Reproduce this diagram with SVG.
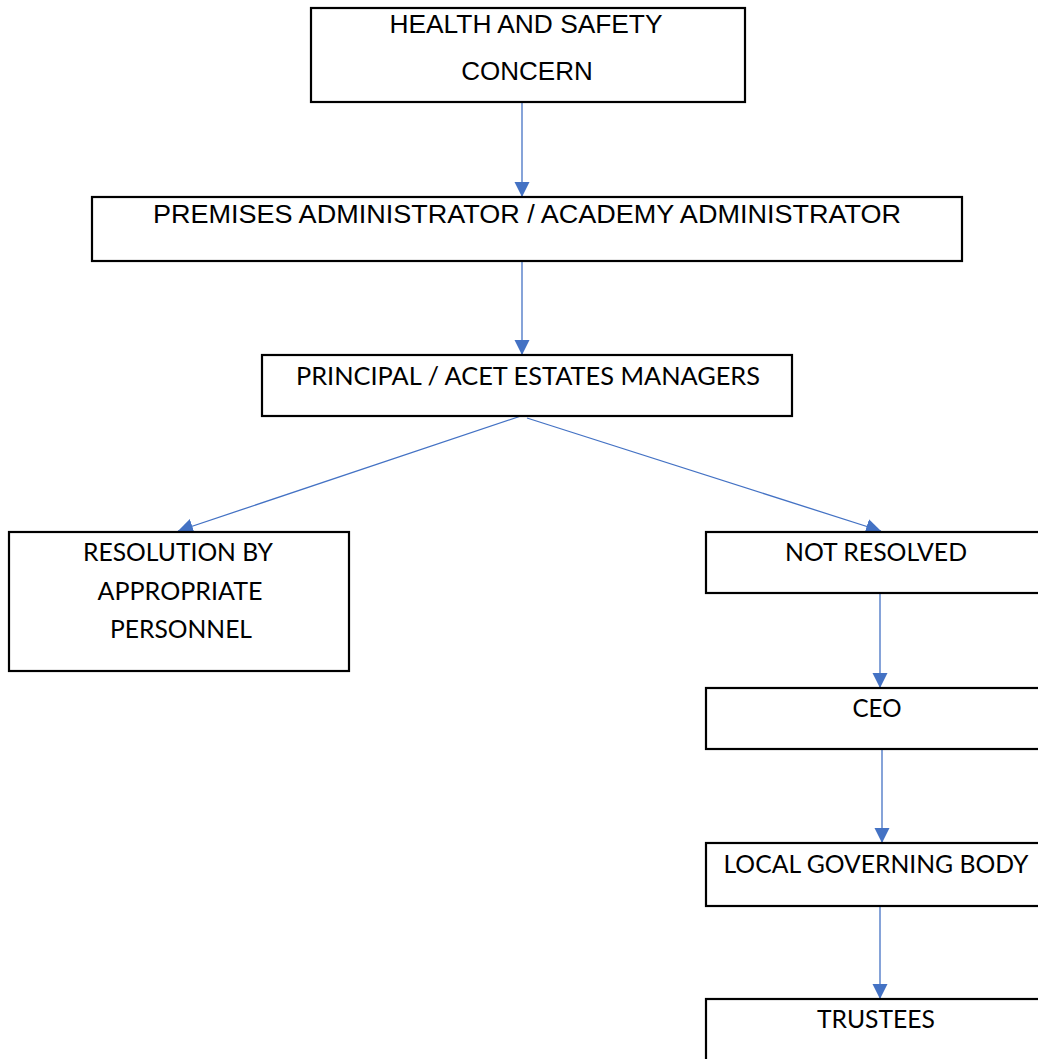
<svg xmlns="http://www.w3.org/2000/svg" width="1038" height="1059" viewBox="0 0 1038 1059">
<style>
.box{fill:#fff;stroke:#000;stroke-width:2.2}
.a{font-family:"Liberation Sans",Arial,sans-serif;font-size:26px;fill:#000;text-anchor:middle}
.c{font-family:Lato,"Open Sans",sans-serif;font-size:25px;fill:#000;text-anchor:middle}
.ln{stroke:#4472C4;stroke-width:1.3;fill:none;marker-end:url(#ah)}
</style>
<defs>
<marker id="ah" markerUnits="userSpaceOnUse" markerWidth="16" markerHeight="16" refX="15" refY="7.5" orient="auto">
<path d="M0,0 L15,7.5 L0,15 z" fill="#4472C4"/>
</marker>
</defs>
<rect width="1038" height="1059" fill="#fff"/>
<g id="connectors">
<line class="ln" x1="522" y1="102" x2="522" y2="197"/>
<line class="ln" x1="522" y1="261" x2="522" y2="355"/>
<line class="ln" x1="521" y1="416" x2="178" y2="531"/>
<line class="ln" x1="527" y1="418" x2="881" y2="531"/>
<line class="ln" x1="880" y1="594" x2="880" y2="688"/>
<line class="ln" x1="882" y1="750" x2="882" y2="843"/>
<line class="ln" x1="880" y1="906" x2="880" y2="999"/>
</g>
<g id="n1">
<rect class="box" x="311" y="8" width="434" height="94"/>
<text class="a" x="526" y="33" textLength="273" lengthAdjust="spacingAndGlyphs">HEALTH AND SAFETY</text>
<text class="a" x="527" y="80">CONCERN</text>
</g>
<g id="n2">
<rect class="box" x="92" y="197" width="870" height="64"/>
<text class="a" x="527" y="223" textLength="748" lengthAdjust="spacingAndGlyphs">PREMISES ADMINISTRATOR / ACADEMY ADMINISTRATOR</text>
</g>
<g id="n3">
<rect class="box" x="262" y="355" width="530" height="61"/>
<text class="c" x="528" y="385" textLength="464" lengthAdjust="spacingAndGlyphs">PRINCIPAL / ACET ESTATES MANAGERS</text>
</g>
<g id="n4">
<rect class="box" x="9" y="532" width="340" height="139"/>
<text class="c" x="178" y="561" textLength="190" lengthAdjust="spacingAndGlyphs">RESOLUTION BY</text>
<text class="c" x="180" y="600" textLength="165" lengthAdjust="spacingAndGlyphs">APPROPRIATE</text>
<text class="c" x="181" y="638" textLength="142" lengthAdjust="spacingAndGlyphs">PERSONNEL</text>
</g>
<g id="n5">
<rect class="box" x="706" y="532" width="340" height="61"/>
<text class="c" x="876" y="561" textLength="182" lengthAdjust="spacingAndGlyphs">NOT RESOLVED</text>
</g>
<g id="n6">
<rect class="box" x="706" y="688" width="340" height="61"/>
<text class="c" x="877" y="717" textLength="49" lengthAdjust="spacingAndGlyphs">CEO</text>
</g>
<g id="n7">
<rect class="box" x="706" y="843" width="340" height="63"/>
<text class="c" x="876" y="873" textLength="305" lengthAdjust="spacingAndGlyphs">LOCAL GOVERNING BODY</text>
</g>
<g id="n8">
<rect class="box" x="706" y="999" width="340" height="70"/>
<text class="c" x="876" y="1028" textLength="118" lengthAdjust="spacingAndGlyphs">TRUSTEES</text>
</g>
</svg>
